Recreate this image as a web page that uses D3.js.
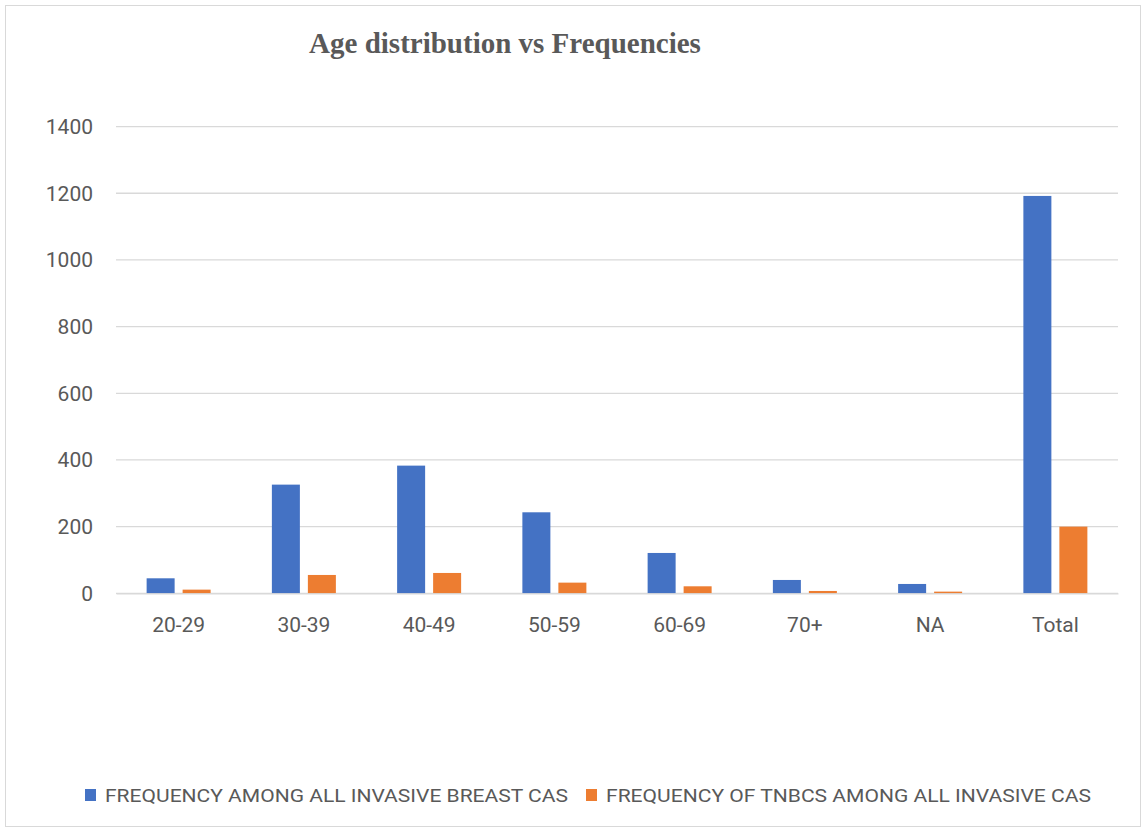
<!DOCTYPE html>
<html>
<head>
<meta charset="utf-8">
<script src="https://cdn.jsdelivr.net/npm/d3@7"></script>
<style>
body { margin: 0; background: #fff; }
text { font-family: Roboto, "Open Sans", sans-serif; fill: #595959; }
</style>
</head>
<body>
<div id="chart-area"></div>
<script>
// datos
const categories = ["20-29", "30-39", "40-49", "50-59", "60-69", "70+", "NA", "Total"]
const seriesNames = ["FREQUENCY AMONG ALL INVASIVE BREAST CAS", "FREQUENCY OF TNBCS AMONG ALL INVASIVE CAS"]
const allInvasive = [45, 326, 383, 243, 121, 40, 28, 1192]
const tnbcs = [11, 55, 61, 32, 21, 7, 5, 200]
const yTicks = [0, 200, 400, 600, 800, 1000, 1200, 1400]
const colors = ["#4472C4", "#ED7D31"]

const W = 1143, H = 829
const MARGIN = { LEFT: 116, RIGHT: 25, TOP: 126.6, BOTTOM: 235.7 }
const WIDTH = W - MARGIN.LEFT - MARGIN.RIGHT
const HEIGHT = H - MARGIN.TOP - MARGIN.BOTTOM

const svg = d3.select("#chart-area").append("svg")
    .attr("width", W)
    .attr("height", H)

// borde exterior
svg.append("rect")
    .attr("x", 5.5).attr("y", 5.5)
    .attr("width", W - 8).attr("height", H - 8)
    .attr("fill", "none")
    .attr("stroke", "#d9d9d9")

svg.append("text")
    .attr("x", 505)
    .attr("y", 53)
    .attr("text-anchor", "middle")
    .style("font-family", "'Liberation Serif', 'Times New Roman', serif")
    .style("font-weight", "bold")
    .style("font-size", "29px")
    .text("Age distribution vs Frequencies")

const g = svg.append("g")
    .attr("transform", `translate(${MARGIN.LEFT}, ${MARGIN.TOP})`)

// scales
const x0 = d3.scaleBand().domain(categories).range([0, WIDTH])
    .paddingInner(0.489).paddingOuter(0.2445)
const x1 = d3.scaleBand().domain([0, 1]).range([0, x0.bandwidth()])
    .paddingInner(0.222)
const y = d3.scaleLinear().domain([0, 1400]).range([HEIGHT, 0])

// gridlines
g.append("g").selectAll("line")
    .data(yTicks)
    .enter().append("line")
        .attr("x1", 0).attr("x2", WIDTH)
        .attr("y1", d => y(d)).attr("y2", d => y(d))
        .attr("stroke", "#d9d9d9")
        .attr("stroke-width", 1.3)

// y axis
const yAxis = g.append("g")
    .call(d3.axisLeft(y).tickValues(yTicks).tickFormat(d3.format("d")).tickSize(0).tickPadding(23))
yAxis.select(".domain").remove()
yAxis.selectAll("text").style("font-size", "21px").attr("fill", "#595959")

// bars
const rows = categories.map((c, i) => ({ cat: c, vals: [allInvasive[i], tnbcs[i]] }))
const groups = g.selectAll(".grp")
    .data(rows)
    .enter().append("g")
        .attr("class", "grp")
        .attr("transform", d => `translate(${x0(d.cat)},0)`)
groups.selectAll("rect")
    .data(d => d.vals.map((v, k) => ({ k: k, v: v })))
    .enter().append("rect")
        .attr("x", d => x1(d.k))
        .attr("width", x1.bandwidth())
        .attr("y", d => y(d.v))
        .attr("height", d => HEIGHT - y(d.v))
        .attr("fill", d => colors[d.k])

// x axis
const xAxis = g.append("g")
    .attr("transform", `translate(0, ${HEIGHT})`)
    .call(d3.axisBottom(x0).tickSize(0))
xAxis.select(".domain").attr("stroke", "#d9d9d9").attr("stroke-width", 1.3)
xAxis.selectAll("text")
    .attr("dy", null)
    .attr("y", 39)
    .style("font-size", "21px")
    .attr("fill", "#595959")

// legend
const legendX = [85, 586]
const legendLen = [463, 485]
const legend = svg.append("g")
    .selectAll("g")
    .data(seriesNames)
    .enter().append("g")
        .attr("transform", (d, i) => `translate(${legendX[i]}, 789)`)
legend.append("rect")
    .attr("width", 11).attr("height", 12)
    .attr("fill", (d, i) => colors[i])
legend.append("text")
    .attr("x", 20)
    .attr("y", 13)
    .style("font-size", "19px")
    .attr("textLength", (d, i) => legendLen[i])
    .attr("lengthAdjust", "spacingAndGlyphs")
    .text(d => d)
</script>
</body>
</html>
